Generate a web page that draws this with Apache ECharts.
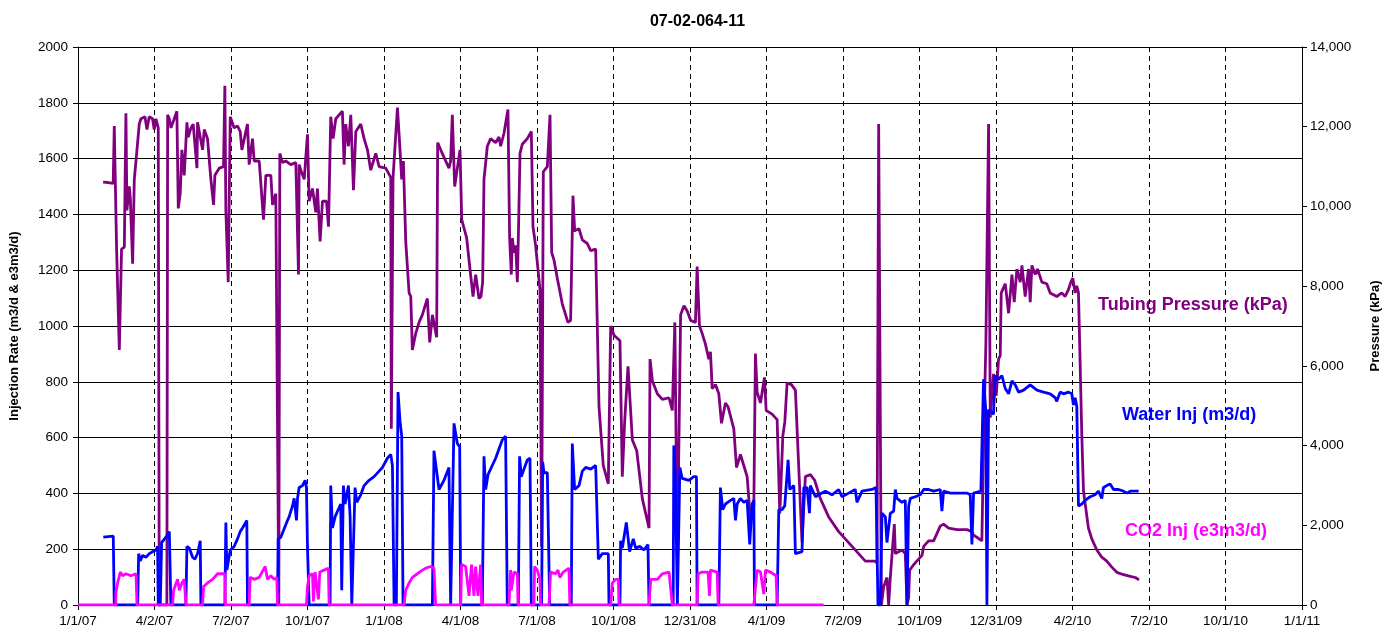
<!DOCTYPE html>
<html>
<head>
<meta charset="utf-8">
<script src="https://cdn.jsdelivr.net/npm/echarts@6/dist/echarts.min.js"></script>
<style>
html,body{margin:0;padding:0;background:#fff;}
#chart{width:1395px;height:635px;}
</style>
</head>
<body>
<div id="chart"></div>
<script>
// x values are days since 1/1/2007
const chartTitle = '07-02-064-11';
const xMin = 0, xMax = 1461, xInterval = 91.3125;

const tubingPressure = [
[30,10610],[36,10600],[42,10580],[43.3,12020],[46,9000],[49.3,6400],[52,8930],[55.3,8980],[57.2,12340],[58.4,9900],[61.2,10500],[62.4,10220],[65.2,8565],[67.2,10680],[70.4,11420],[73.1,12065],[75.1,12200],[79.9,12250],[82.3,11930],[85,12250],[89,12200],[91,11930],[93,12200],[95.8,11970],[97,0],[106.1,0],[107,12300],[109,12200],[111,11970],[118,12390],[119,12340],[119.7,9950],[122,10320],[124,11420],[126.8,10780],[130,12110],[131.6,11740],[134.8,11970],[137.5,12065],[142,10960],[142.7,12110],[148.7,11420],[150.7,11930],[154.6,11700],[158.6,10680],[161.8,10040],[163.4,10780],[168.6,10960],[173.7,11000],[175.3,13030],[176.5,9900],[179.3,8100],[181.7,12250],[186.4,11970],[190.4,12020],[193.6,11880],[195.6,11420],[202.3,12065],[204.3,11050],[208.3,11700],[210.3,11140],[216.3,11140],[221.4,9670],[224.2,10780],[230.2,10780],[232.2,10040],[236.1,10320],[238.1,10320],[239.7,0],[240.9,11330],[244,11100],[248,11140],[254,11050],[260,11100],[263.2,8290],[264,11050],[266,10910],[270,10680],[272,10640],[273.9,11810],[275.9,10130],[279.9,10450],[283.8,9850],[285.8,10450],[289,9120],[291.8,10130],[296.6,10130],[299,9490],[301.7,12250],[304.5,11700],[307.7,12200],[315.6,12390],[317.6,11050],[319.6,12065],[322.8,11510],[325.6,12300],[328.8,10410],[331.6,11880],[337.5,12065],[341.5,11700],[345.5,11420],[349.4,10910],[355.4,11330],[359.4,11000],[367.3,10960],[373.3,10730],[374,4420],[376,10700],[381.3,12480],[383.3,11790],[386.4,10680],[388.4,11140],[391.2,9120],[395.2,7830],[397.2,7740],[399.1,6400],[403.1,6815],[407.1,7090],[411,7280],[417,7690],[419.8,6590],[423,7280],[428.1,6720],[429.3,11600],[432.9,11420],[438.9,11140],[442.8,10960],[444.8,11140],[446.8,12300],[449.6,10500],[452.8,10960],[456,11420],[458,9670],[463.9,9210],[466.7,8660],[471.5,7740],[474.7,8290],[478.6,7690],[481,7740],[483,8100],[484.6,10680],[488.6,11510],[492.5,11700],[498.5,11600],[502.5,11740],[504.5,11510],[508.4,11830],[513.2,12430],[515.2,9210],[517.2,8290],[518.4,9210],[520.4,8840],[522.4,9025],[524.4,8100],[525.6,9210],[527.6,11330],[530.3,11560],[536.3,11700],[541.1,11880],[543.1,9490],[546.2,9025],[551.4,7920],[553.4,1470],[555.4,10870],[560.2,11000],[563.4,12300],[565.4,8840],[568.1,8660],[572.1,8200],[578.1,7550],[584.8,7090],[588,7140],[590.8,10270],[592.8,9390],[598,9440],[602,9160],[607.9,9070],[611.9,8890],[617.9,8930],[619.9,8930],[621.9,4970],[627,3500],[633,3040],[635.8,7000],[639.8,6770],[646.9,6630],[649.7,3220],[652.5,4600],[656.5,5990],[661.7,4140],[666.9,3870],[673.6,2670],[681.6,1930],[682.8,6170],[685.6,5620],[691.5,5300],[697.5,5160],[705.5,5200],[709.4,4880],[712.4,7090],[715.4,1100],[719.3,7280],[723.3,7510],[727.3,7370],[731.3,7140],[737,7090],[739,8490],[741.8,7000],[745,6815],[749,6540],[752.9,6170],[754.9,6355],[757,5430],[760.9,5530],[764.9,5300],[768.1,4560],[772.8,5070],[776,4970],[782.8,4420],[786,3450],[790.7,3780],[794.7,3500],[798.7,3220],[802.7,2120],[806.7,2490],[808.6,6310],[810.6,5340],[814.6,5070],[819.4,5710],[821.4,4880],[828.5,4790],[834.5,4650],[837.7,2300],[841.3,4240],[843.7,4600],[846.4,5570],[851.6,5530],[856.3,5390],[864.2,1570],[868.2,3220],[874.2,3270],[879.3,3130],[886.1,2670],[896,2210],[908,1840],[923.9,1470],[939.8,1100],[950.9,1100],[953.7,1060],[955.7,12070],[958.9,0],[961.7,460],[965.6,690],[967.6,0],[969.6,690],[974.4,2030],[975.6,1290],[977.6,1335],[983.5,1380],[987.5,1290],[989.5,0],[991.5,185],[992.7,875],[997.4,1010],[1003.4,1150],[1007.4,1245],[1009.4,1470],[1015.3,1610],[1021.3,1610],[1029.2,1980],[1033.2,2030],[1039.2,1930],[1049.1,1890],[1061,1890],[1067,1840],[1069,1750],[1072.9,1700],[1078.9,1610],[1080.9,4050],[1083.7,6590],[1084.9,6630],[1086.9,12070],[1088.9,4700],[1092.8,5800],[1096,5250],[1098.8,6170],[1100.8,6260],[1102,7830],[1106.8,8060],[1110.8,7320],[1114.8,8290],[1117.5,7600],[1120.7,8430],[1124.7,8100],[1126.7,8520],[1130.6,7740],[1134.6,8430],[1136.6,7600],[1138.6,8520],[1142.6,8290],[1145.3,8430],[1150.5,8100],[1156.4,8060],[1160.4,7830],[1168.3,7740],[1174.3,7830],[1178.3,7740],[1182.3,7920],[1185.1,8100],[1187.4,8200],[1190.2,7830],[1192.2,8010],[1194.2,7830],[1198.2,4240],[1200.2,2855],[1206.1,1930],[1210.1,1660],[1216.1,1380],[1222,1200],[1228,1100],[1234,950],[1240,820],[1248,760],[1256,720],[1262,690],[1266.5,630]
];

const waterInj = [
[30.2,243],[42.1,247],[43.3,0],[71.2,0],[72.4,184],[74.3,158],[77.1,178],[81.1,171],[85.1,184],[89,191],[93,197],[95,210],[95.8,0],[98.2,0],[99.8,224],[105,243],[109,263],[110.9,0],[128.8,0],[130,210],[132.8,204],[136.8,171],[139.5,164],[142.7,184],[145.9,230],[146.7,0],[175.3,0],[176.5,296],[177.7,125],[181.7,197],[186.4,210],[190.4,237],[193.6,263],[196.4,276],[201.5,303],[202.3,0],[238.1,0],[238.9,237],[242.1,243],[244.1,250],[250,303],[252,316],[256,355],[258,382],[260,388],[260.8,303],[262,382],[264,421],[268,428],[271.1,447],[272.7,421],[273.9,210],[275.9,0],[300.9,0],[301.7,428],[303.7,276],[306.9,316],[309.7,336],[313.6,362],[314.8,53],[316.8,428],[318.8,362],[322.8,428],[324.8,316],[326.8,0],[328.4,0],[330.7,421],[332.7,368],[337.5,395],[341.5,428],[347.4,447],[353.4,460],[359.4,480],[363.4,493],[369.3,526],[373.3,540],[375.3,500],[377.3,0],[380,0],[382,763],[384.4,658],[386.4,605],[388,0],[423,0],[424.9,553],[430.9,414],[436.9,447],[442.8,493],[444.8,0],[446.8,0],[448.8,651],[452.8,579],[455.6,566],[456.8,0],[482.6,0],[484.6,533],[486.6,414],[489.4,467],[494.5,500],[498.5,526],[502.5,559],[506.5,592],[510.4,605],[512.4,0],[525.6,0],[527.1,533],[529.1,460],[532.3,487],[536.3,520],[539.5,526],[541.1,0],[553.4,0],[554.6,513],[556.2,474],[560.2,474],[562.2,480],[563,0],[588.8,0],[590,579],[592.8,414],[598,428],[602,480],[605.9,493],[611.9,487],[617.9,500],[619.9,500],[621.1,164],[625.8,184],[633,184],[633.8,0],[646.9,0],[647.7,230],[649.7,204],[654.5,296],[658.4,191],[662.8,237],[665.6,204],[670.8,210],[675.5,197],[680.3,217],[681.6,0],[710.4,0],[711.2,572],[713.2,447],[715.4,0],[718.4,493],[721.1,454],[729.1,447],[735,460],[738.2,460],[739,0],[764.9,0],[766.8,421],[769.6,342],[772.8,362],[778.9,375],[782.8,382],[784.8,303],[786.8,362],[790.7,382],[794.7,368],[798.7,375],[801.8,217],[804.6,362],[806.7,375],[807.5,0],[834.5,0],[836.5,342],[840.4,342],[843.6,355],[847.6,520],[849.6,414],[854.4,428],[856.3,184],[864.2,191],[866.3,421],[870.3,421],[873.1,329],[874.2,428],[880.2,388],[884.1,395],[892.1,408],[900,395],[908,414],[911.9,388],[919.9,401],[927.8,414],[929.8,368],[935.8,408],[947.7,414],[952.5,421],[954.9,0],[957.7,0],[959.7,329],[963.7,316],[965.6,224],[969.6,329],[973.6,336],[975.6,414],[977.6,382],[983.5,368],[987.5,375],[989.5,0],[991.5,355],[993.5,382],[999.4,388],[1005.4,395],[1009.4,414],[1015.3,414],[1021.3,408],[1029.2,414],[1031.2,336],[1033.2,408],[1041.2,401],[1049.1,401],[1061,401],[1065,395],[1067,217],[1069,401],[1077.7,408],[1080.9,809],[1083.5,700],[1084.9,0],[1086.9,700],[1088.9,697],[1092.8,684],[1094.8,822],[1098.8,809],[1102.8,822],[1106.8,776],[1110.8,757],[1114.8,803],[1118.7,789],[1122.7,763],[1128.7,770],[1136.6,789],[1144.6,770],[1152.5,763],[1160.4,757],[1166.4,743],[1168.3,730],[1172.3,763],[1176.3,757],[1182.3,763],[1186.2,757],[1188.2,717],[1190.2,743],[1192.2,711],[1194.2,355],[1198.2,362],[1202.1,375],[1208.1,388],[1214,395],[1218,408],[1222,382],[1224,421],[1228,428],[1232,434],[1236,414],[1242,414],[1248,408],[1252,401],[1256,408],[1262,408],[1266,408]
];

const co2Inj = [
[0,0],[45,0],[45.3,46],[47.3,79],[50.5,118],[53.3,105],[57.2,112],[63.2,105],[69.2,112],[70.4,0],[112.9,0],[114.1,53],[118.9,92],[120.9,53],[124,79],[126.8,92],[128.8,0],[148.7,0],[149.9,66],[154.6,79],[160.6,92],[166.6,112],[175.3,112],[176,0],[204.3,0],[205.5,99],[210.3,92],[216.3,99],[223.4,138],[226.2,92],[230.2,105],[234.1,92],[237.3,99],[238.1,0],[272.7,0],[273.9,66],[275.9,105],[279.9,112],[281,13],[283,118],[287,20],[288.6,118],[293.7,125],[298.9,132],[299.7,0],[389.2,0],[391.2,53],[395.2,79],[399.1,99],[405.1,112],[411,125],[415,132],[421,138],[424.9,132],[426.9,0],[456.8,0],[457.9,145],[462.7,138],[466.7,33],[469.8,145],[472.6,33],[474.6,138],[477.4,33],[480.6,145],[481.8,0],[514.4,0],[516.4,125],[517.2,53],[520.4,118],[524.4,112],[525.2,0],[544.2,0],[545,138],[548.2,125],[551.4,92],[552.2,0],[562.2,0],[564.1,118],[570.1,112],[572.9,125],[575.2,99],[579.2,118],[586,132],[587.1,0],[635.8,0],[637.8,79],[641.8,92],[645,92],[645.7,0],[681.6,0],[683.6,92],[691.5,92],[697.5,112],[705.5,118],[707.4,112],[709.4,0],[739,0],[740.2,112],[745,118],[752,118],[753.8,33],[754.9,125],[762.9,118],[764.1,0],[806.7,0],[810.6,125],[814.6,118],[818.6,39],[820.6,125],[826.6,118],[833.3,105],[834.5,0],[890,0]
];

const seriesNames = ['Tubing Pressure (kPa)', 'Water Inj (m3/d)', 'CO2 Inj (e3m3/d)'];
const seriesColors = ['#800080', '#0000ff', '#ff00ff'];
const leftAxisName = 'Injection Rate (m3/d & e3m3/d)';
const rightAxisName = 'Pressure (kPa)';

function dayLabel(v) {
  const d = new Date(Date.UTC(2007, 0, 1) + Math.floor(v + 1e-6) * 86400000);
  return (d.getUTCMonth() + 1) + '/' + d.getUTCDate() + '/' + String(d.getUTCFullYear()).slice(2);
}

const FONT = 'Liberation Sans, Arial, sans-serif';
const chart = echarts.init(document.getElementById('chart'), null, {renderer: 'canvas'});
const option = {
  animation: false,
  backgroundColor: '#fff',
  title: {
    text: chartTitle, left: 'center', top: 9,
    textStyle: {fontFamily: FONT, fontSize: 16, fontWeight: 'bold', color: '#000'}
  },
  grid: {left: 77, right: 93, top: 47, bottom: 30, containLabel: false},
  xAxis: {
    type: 'value', min: xMin, max: xMax, interval: xInterval,
    axisLine: {show: true, lineStyle: {color: '#000', width: 1}},
    axisTick: {show: true, length: 5, lineStyle: {color: '#000'}},
    axisLabel: {formatter: dayLabel, fontFamily: FONT, fontSize: 13.5, color: '#000', margin: 9, showMaxLabel: true, showMinLabel: true},
    splitLine: {show: true, lineStyle: {color: '#000', width: 1, type: [5, 4]}}
  },
  yAxis: [
    {
      type: 'value', min: 0, max: 2000, interval: 200, position: 'left',
      name: leftAxisName, nameLocation: 'middle', nameRotate: 90, nameGap: 57,
      nameTextStyle: {fontFamily: FONT, fontSize: 13, fontWeight: 'bold', color: '#000'},
      axisLine: {show: true, lineStyle: {color: '#000', width: 1}},
      axisTick: {show: true, length: 5, lineStyle: {color: '#000'}},
      axisLabel: {fontFamily: FONT, fontSize: 13.5, color: '#000', margin: 10, formatter: v => String(v)},
      splitLine: {show: true, lineStyle: {color: '#000', width: 1}}
    },
    {
      type: 'value', min: 0, max: 14000, interval: 2000, position: 'right',
      name: rightAxisName, nameLocation: 'middle', nameRotate: 90, nameGap: 67,
      nameTextStyle: {fontFamily: FONT, fontSize: 13, fontWeight: 'bold', color: '#000'},
      axisLine: {show: true, lineStyle: {color: '#000', width: 1}},
      axisTick: {show: true, length: 5, lineStyle: {color: '#000'}},
      axisLabel: {fontFamily: FONT, fontSize: 13.5, color: '#000', margin: 8,
        formatter: v => v.toLocaleString('en-US')},
      splitLine: {show: false}
    }
  ],
  series: [
    {name: seriesNames[0], type: 'line', yAxisIndex: 1, data: tubingPressure, showSymbol: false, symbol: 'none',
      lineStyle: {color: seriesColors[0], width: 2.8}, itemStyle: {color: seriesColors[0]}, z: 2},
    {name: seriesNames[1], type: 'line', yAxisIndex: 0, data: waterInj, showSymbol: false, symbol: 'none',
      lineStyle: {color: seriesColors[1], width: 2.8}, itemStyle: {color: seriesColors[1]}, z: 3},
    {name: seriesNames[2], type: 'line', yAxisIndex: 0, data: co2Inj, showSymbol: false, symbol: 'none',
      lineStyle: {color: seriesColors[2], width: 2.8}, itemStyle: {color: seriesColors[2]}, z: 4}
  ],
  graphic: [
    {type: 'text', left: 1098, top: 296, style: {text: seriesNames[0], fill: seriesColors[0], font: 'bold 18px ' + FONT}},
    {type: 'text', left: 1122, top: 406, style: {text: seriesNames[1], fill: seriesColors[1], font: 'bold 18px ' + FONT}},
    {type: 'text', left: 1125, top: 522, style: {text: seriesNames[2], fill: seriesColors[2], font: 'bold 18px ' + FONT}}
  ]
};
chart.setOption(option);
</script>
</body>
</html>
